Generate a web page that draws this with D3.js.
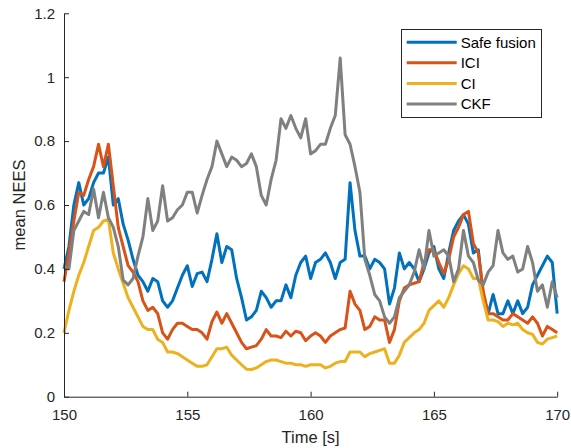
<!DOCTYPE html>
<html>
<head>
<meta charset="utf-8">
<script src="https://cdn.jsdelivr.net/npm/d3@7"></script>
<style>
  html, body { margin: 0; padding: 0; background: #fff; }
  svg { display: block; font-family: "Liberation Sans", Arial, Helvetica, sans-serif; }
</style>
</head>
<body>
<svg id="chart" width="571" height="448"></svg>
<script>
// Sampling grid: 150 s to 170 s every 0.2 s
const timeStart = 150, timeStep = 0.2, sampleCount = 101;
const time = d3.range(sampleCount).map(i => +(timeStart + i * timeStep).toFixed(1));

const seriesNames = ["Safe fusion", "ICI", "CI", "CKF"];

const safeFusion = [
  0.40,0.47,0.60,0.67,0.60,0.62,0.67,0.70,0.70,0.75,
  0.60,0.62,0.54,0.49,0.43,0.38,0.36,0.33,0.37,0.36,
  0.30,0.28,0.30,0.34,0.38,0.41,0.345,0.385,0.39,0.36,
  0.43,0.51,0.42,0.47,0.46,0.37,0.31,0.24,0.25,0.27,
  0.33,0.31,0.28,0.30,0.30,0.35,0.31,0.38,0.42,0.44,
  0.37,0.42,0.43,0.45,0.42,0.37,0.42,0.43,0.67,0.52,
  0.44,0.44,0.40,0.43,0.42,0.40,0.29,0.34,0.45,0.40,
  0.42,0.40,0.36,0.40,0.45,0.47,0.40,0.37,0.45,0.52,
  0.55,0.57,0.54,0.45,0.46,0.32,0.26,0.32,0.26,0.26,
  0.30,0.26,0.30,0.26,0.28,0.35,0.38,0.41,0.44,0.42,
  0.26
];

const ici = [
  0.36,0.45,0.55,0.64,0.63,0.68,0.72,0.79,0.72,0.79,
  0.66,0.53,0.47,0.41,0.39,0.36,0.30,0.27,0.28,0.26,
  0.20,0.18,0.21,0.23,0.23,0.22,0.21,0.21,0.20,0.18,
  0.235,0.265,0.23,0.26,0.23,0.20,0.17,0.15,0.155,0.16,
  0.18,0.21,0.19,0.19,0.185,0.205,0.19,0.205,0.20,0.175,
  0.19,0.20,0.19,0.17,0.19,0.20,0.21,0.215,0.33,0.29,
  0.27,0.21,0.22,0.25,0.24,0.24,0.17,0.21,0.30,0.34,
  0.35,0.355,0.36,0.42,0.46,0.46,0.42,0.385,0.43,0.50,
  0.53,0.57,0.58,0.48,0.45,0.33,0.26,0.26,0.25,0.24,
  0.24,0.26,0.25,0.24,0.23,0.25,0.23,0.19,0.22,0.21,
  0.20
];

const ci = [
  0.20,0.27,0.33,0.38,0.42,0.47,0.52,0.53,0.55,0.555,
  0.45,0.40,0.355,0.31,0.28,0.25,0.22,0.21,0.21,0.18,
  0.17,0.14,0.14,0.135,0.125,0.115,0.105,0.095,0.095,0.10,
  0.125,0.15,0.15,0.155,0.13,0.115,0.10,0.086,0.085,0.09,
  0.10,0.11,0.115,0.115,0.11,0.105,0.105,0.10,0.10,0.095,
  0.10,0.10,0.10,0.09,0.095,0.105,0.11,0.11,0.14,0.14,
  0.14,0.125,0.135,0.14,0.145,0.15,0.105,0.105,0.13,0.17,
  0.185,0.20,0.21,0.23,0.27,0.285,0.30,0.28,0.31,0.35,
  0.385,0.41,0.40,0.37,0.37,0.30,0.24,0.24,0.235,0.22,
  0.23,0.225,0.23,0.21,0.20,0.195,0.17,0.165,0.18,0.185,
  0.19
];

const ckf = [
  0.41,0.40,0.52,0.55,0.58,0.57,0.65,0.56,0.64,0.56,
  0.53,0.47,0.365,0.35,0.37,0.44,0.50,0.62,0.52,0.55,
  0.66,0.55,0.56,0.585,0.60,0.64,0.64,0.575,0.63,0.68,
  0.72,0.80,0.76,0.72,0.75,0.74,0.72,0.73,0.76,0.72,
  0.63,0.60,0.68,0.74,0.87,0.84,0.88,0.84,0.81,0.87,
  0.76,0.77,0.79,0.79,0.84,0.88,1.06,0.82,0.79,0.72,
  0.64,0.43,0.38,0.32,0.30,0.25,0.23,0.25,0.31,0.33,
  0.35,0.39,0.46,0.40,0.52,0.44,0.45,0.46,0.44,0.36,
  0.40,0.52,0.44,0.42,0.365,0.35,0.39,0.41,0.52,0.45,
  0.43,0.44,0.39,0.40,0.47,0.42,0.33,0.35,0.28,0.36,
  0.31
];

const xTicks = [150, 155, 160, 165, 170];
const yTicks = [0, 0.2, 0.4, 0.6, 0.8, 1, 1.2];
const xLabel = "Time [s]";
const yLabel = "mean NEES";

const seriesValues = [safeFusion, ici, ci, ckf];
const seriesColors = ["#0072BD", "#D95319", "#EDB120", "#808080"];
const axisColor = "#262626";

const svg = d3.select("#chart");
const plot = { left: 64, right: 557.2, top: 13.3, bottom: 396.7 };

const x = d3.scaleLinear().domain([150, 170]).range([plot.left, plot.right]);
const y = d3.scaleLinear().domain([0, 1.2]).range([plot.bottom, plot.top]);

// Data lines
const line = d3.line().x((d, i) => x(time[i])).y(d => y(d));
svg.append("g").selectAll("path")
  .data(seriesValues)
  .join("path")
  .attr("d", d => line(d))
  .attr("fill", "none")
  .attr("stroke", (d, i) => seriesColors[i])
  .attr("stroke-width", 3)
  .attr("stroke-linejoin", "round")
  .attr("stroke-linecap", "butt");

// Axes with inward ticks
const xAxis = svg.append("g")
  .attr("transform", `translate(0,${plot.bottom})`)
  .call(d3.axisBottom(x).tickValues(xTicks).tickFormat(d3.format("d"))
    .tickSizeInner(-5).tickSizeOuter(0).tickPadding(13));
const yAxis = svg.append("g")
  .attr("transform", `translate(${plot.left},0)`)
  .call(d3.axisLeft(y).tickValues(yTicks).tickFormat(d3.format("~g"))
    .tickSizeInner(-5).tickSizeOuter(0).tickPadding(9));

[xAxis, yAxis].forEach(g => {
  g.select(".domain").attr("stroke", axisColor).attr("stroke-width", 1);
  g.selectAll(".tick line").attr("stroke", axisColor);
  g.selectAll(".tick text")
    .attr("fill", axisColor)
    .style("font-size", "15px")
    .style("font-family", '"Liberation Sans", Arial, sans-serif');
});

// Axis titles
svg.append("text")
  .attr("x", (plot.left + plot.right) / 2)
  .attr("y", 443)
  .attr("text-anchor", "middle")
  .attr("fill", axisColor)
  .style("font-size", "16.5px")
  .text(xLabel);

svg.append("text")
  .attr("transform", `translate(25,${(plot.top + plot.bottom) / 2}) rotate(-90)`)
  .attr("text-anchor", "middle")
  .attr("fill", axisColor)
  .style("font-size", "16.5px")
  .text(yLabel);

// Legend
const legend = svg.append("g");
legend.append("rect")
  .attr("x", 401.5).attr("y", 29.5)
  .attr("width", 140).attr("height", 88)
  .attr("fill", "#fff")
  .attr("stroke", axisColor)
  .attr("stroke-width", 1);

const rowY = d3.scalePoint().domain(seriesNames).range([42.3, 104]);
const rows = legend.selectAll("g.row")
  .data(seriesNames)
  .join("g")
  .attr("class", "row")
  .attr("transform", d => `translate(0,${rowY(d)})`);
rows.append("line")
  .attr("x1", 406.7).attr("x2", 456.7)
  .attr("stroke", (d, i) => seriesColors[i])
  .attr("stroke-width", 3);
rows.append("text")
  .attr("x", 460.7)
  .attr("dy", "0.35em")
  .attr("fill", "#000")
  .style("font-size", "15px")
  .text(d => d);
</script>
</body>
</html>
